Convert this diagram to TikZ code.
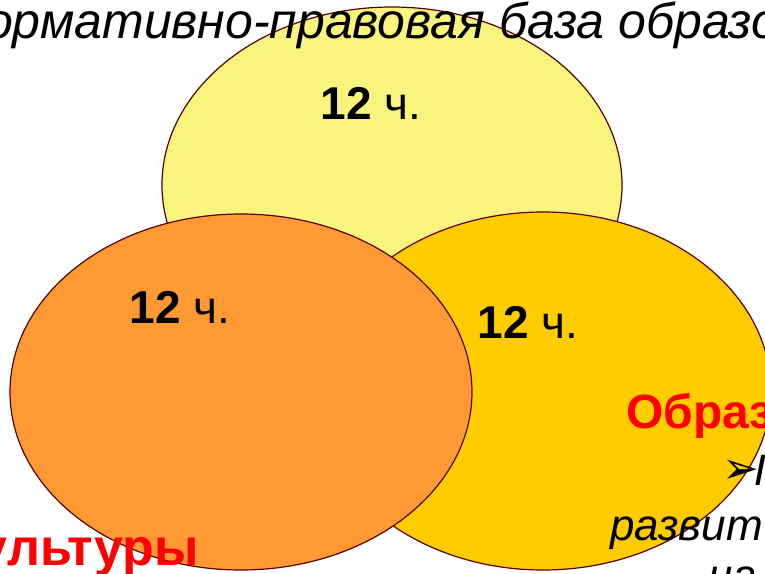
\documentclass[tikz,border=0pt]{standalone}
\usepackage{fontspec}
\setmainfont{Liberation Sans}
\newfontfamily\dingfont{DejaVu Sans}
\usetikzlibrary{shapes.geometric}

\definecolor{normyellow}{HTML}{F9F47D}
\definecolor{proggold}{HTML}{FFCC00}
\definecolor{cultorange}{HTML}{FF9933}
\definecolor{rim}{HTML}{5C0000}

\newcommand\sz[1]{\fontsize{#1}{#1}\selectfont}

\begin{document}
\begin{tikzpicture}[x=1pt,y=-1pt,
    blob/.style={ellipse,draw=rim,line width=1.2pt,inner sep=0pt},
    hours/.style={inner sep=0pt,anchor=base,font=\sz{46}},
    slidetext/.style={inner sep=0pt,anchor=base west}]
    \useasboundingbox (0,0) rectangle (765,573);

    % ellipses, back to front
    \foreach \name/\x/\y/\w/\h/\c in {norm/392/185/460/356/normyellow,
        prog/543/391/456/358/proggold, cult/241/392/462/356/cultorange} {
      \node[blob,fill=\c,minimum width=\w pt,minimum height=\h pt] (\name) at (\x,\y) {};
    }

    % hours
    \foreach \name/\x/\y in {normh/371/119, culth/180/323, progh/528/338} {
      \node[hours] (\name) at (\x,\y) {\textbf{12} ч.};
    }

    % slide texts
    \node[slidetext,font=\sz{50}\itshape] (normtitle) at (-15,38) {ормативно-правовая база образо};

    \node[slidetext,font=\sz{48}\bfseries,text=red] (progtitle) at (626,428) {Образ};
    \node[slidetext,font=\sz{44}\dingfont] (bullet) at (722,483) {➢};
    \node[slidetext,font=\sz{44}\itshape] (progline) at (754,485) {П};
    \node[slidetext,font=\sz{44}\itshape] (progdev) at (610,540) {развит};
    \node[slidetext,font=\sz{44}\itshape] (progon) at (708,590) {на};

    \node[inner sep=0pt,anchor=base east,font=\sz{52}\bfseries,text=red] (culttitle) at (199,565) {ультуры};
\end{tikzpicture}
\end{document}
